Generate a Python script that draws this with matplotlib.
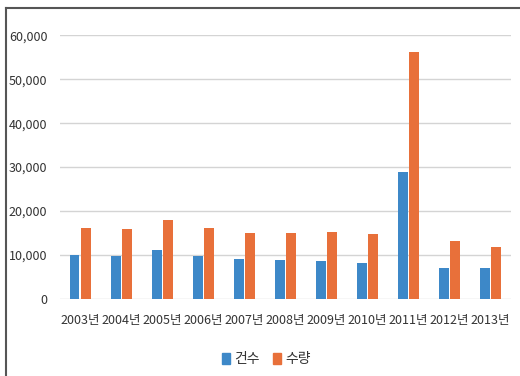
import matplotlib
matplotlib.use("Agg")
import matplotlib.pyplot as plt
import numpy as np
from matplotlib.lines import Line2D
from matplotlib.patches import Patch
from matplotlib.ticker import FuncFormatter

plt.rcParams['font.family'] = ['Noto Sans CJK KR', 'DejaVu Sans']

years = ["2003년", "2004년", "2005년", "2006년", "2007년", "2008년",
         "2009년", "2010년", "2011년", "2012년", "2013년"]
cases = [10000, 9700, 11200, 9700, 9100, 8800, 8500, 8200, 28900, 7100, 7100]
volume = [16100, 15800, 17900, 16100, 15000, 15000, 15300, 14700, 56300, 13100, 11700]
series_names = ["건수", "수량"]

BLUE = "#3d88c8"
ORANGE = "#e8703a"
TEXT = "#333333"

fig = plt.figure(figsize=(5.2, 3.76), dpi=100)
ax = fig.add_axes([0.115, 0.2056, 0.868, 0.70])

x = np.arange(len(years))
w = 0.23
ax.bar(x - 0.135, cases, width=w, color=BLUE, zorder=3)
ax.bar(x + 0.135, volume, width=w, color=ORANGE, zorder=3)

ax.set_xlim(-0.5, len(years) - 0.5)
ax.set_ylim(0, 60000)
ax.set_yticks(np.arange(0, 60001, 10000))
ax.yaxis.set_major_formatter(FuncFormatter(lambda v, p: f"{int(v):,}"))
ax.set_xticks(x)
ax.set_xticklabels(years)
ax.grid(axis="y", color="#d4d4d4", linewidth=1.0, zorder=0)
for s in ax.spines.values():
    s.set_visible(False)
ax.tick_params(axis="both", length=0, labelsize=9, labelcolor=TEXT)
ax.tick_params(axis="y", pad=9)
ax.tick_params(axis="x", pad=11)

handles = [Patch(color=BLUE), Patch(color=ORANGE)]
fig.legend(handles, series_names, loc="center", bbox_to_anchor=(0.512, 0.045),
           ncol=2, frameon=False, fontsize=10, handlelength=0.55, handleheight=0.9,
           handletextpad=0.3, columnspacing=1.0, labelcolor=TEXT)

# frame around the figure (left and top only)
fig.add_artist(Line2D([0.012, 0.012], [0, 0.98], transform=fig.transFigure,
                      color="#555555", linewidth=1.5))
fig.add_artist(Line2D([0.012, 1.0], [0.98, 0.98], transform=fig.transFigure,
                      color="#555555", linewidth=1.5))

fig.savefig("out.png", dpi=100)
